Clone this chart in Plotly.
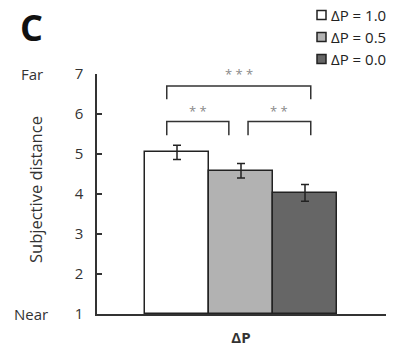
import plotly.graph_objects as go

# Data
series = ["ΔP = 1.0", "ΔP = 0.5", "ΔP = 0.0"]
means = [5.04, 4.58, 4.03]
errors = [0.18, 0.18, 0.21]
colors = ["#ffffff", "#b2b2b2", "#666666"]
yticks = [1, 2, 3, 4, 5, 6, 7]
xlabel = "ΔP"

FONT = "Open Sans"
W, H = 394, 346
ml, mr, mt, mb = 97, 8, 74, 32
pw, ph = W - ml - mr, H - mt - mb
YMIN, YMAX = 1, 7

def px_x(p):
    return (p - ml) / pw

def px_y(p):
    return (H - mb - p) / ph

def data_to_paper_y(v):
    return (v - YMIN) / (YMAX - YMIN)

fig = go.Figure()
for i, (name, m, e, c) in enumerate(zip(series, means, errors, colors)):
    fig.add_trace(go.Bar(
        x=[i], y=[m - 1], base=1, width=1, name=name, showlegend=False,
        marker=dict(color=c, line=dict(color="#222222", width=1.5)),
        error_y=dict(type="data", array=[e], color="#222222", thickness=1.5, width=4),
    ))

# x range so that bar width ~64px inside 289px plot
bw_px = 64.0
left_units = (177 - ml) / bw_px
xr = [-left_units, -left_units + pw / bw_px]

fig.update_layout(
    width=W, height=H,
    margin=dict(l=ml, r=mr, t=mt, b=mb, autoexpand=False),
    paper_bgcolor="white", plot_bgcolor="white",
    font=dict(family=FONT, size=14, color="#333333"),
    showlegend=False,
    xaxis=dict(range=xr, tickvals=[1], ticktext=[f"<b>{xlabel}</b>"],
               showline=True, linecolor="#333333", linewidth=1.5,
               ticks="", showgrid=False, zeroline=False, ticklabelstandoff=9,
               tickfont=dict(size=15, color="#333333")),
    yaxis=dict(range=[YMIN, YMAX], tickvals=yticks, ticks="inside", ticklen=5,
               tickwidth=1.5, tickcolor="#333333",
               showline=True, linecolor="#333333", linewidth=1.5,
               showgrid=False, zeroline=False, ticklabelstandoff=9,
               tickfont=dict(size=15, color="#333333")),
    bargap=0,
)

# manual legend
for k, (name, c) in enumerate(zip(series, colors)):
    yc = 15 + 22 * k
    fig.add_shape(type="rect", xref="paper", yref="paper",
                  x0=px_x(317), x1=px_x(326), y0=px_y(yc + 4.5), y1=px_y(yc - 4.5),
                  fillcolor=c, line=dict(color="#222222", width=1.5))
    fig.add_annotation(x=px_x(329), y=px_y(yc), xref="paper", yref="paper",
                       xanchor="left", yanchor="middle", text=name, showarrow=False,
                       font=dict(size=15, color="#222222"))

# significance brackets (in bar units relative to bar centers)
def bracket(x0, x1, ytop, ybot, text, ytext):
    fig.add_shape(type="path", xref="x", yref="y",
                  path=f"M {x0},{ybot} L {x0},{ytop} L {x1},{ytop} L {x1},{ybot}",
                  line=dict(color="#333333", width=1.5))
    fig.add_annotation(x=(x0 + x1) / 2, y=data_to_paper_y(ytext), xref="x", yref="paper",
                       text=text, xanchor="center", yanchor="middle",
                       showarrow=False, font=dict(size=13, color="#8a8a8a"))

bracket(0 - 0.16, 1 - 0.19, 5.81, 5.47, "* *", 6.07)
bracket(1 + 0.11, 2 + 0.09, 5.81, 5.47, "* *", 6.07)
bracket(0 - 0.16, 2 + 0.09, 6.70, 6.37, "* * *", 7.0)

# texts
def label(xp, yp, text, size, color="#333333", angle=0):
    fig.add_annotation(x=xp, y=yp, xref="paper", yref="paper", text=text,
                       xanchor="center", yanchor="middle", textangle=angle,
                       showarrow=False, font=dict(size=size, color=color))

label(px_x(31), px_y(27), "<b>C</b>", 36, "#111111")
label(px_x(32), data_to_paper_y(7), "Far", 15)
label(px_x(31), data_to_paper_y(1), "Near", 15)
label(px_x(35), px_y(190), "Subjective distance", 16.5, angle=-90)

fig.write_html("out.html")
